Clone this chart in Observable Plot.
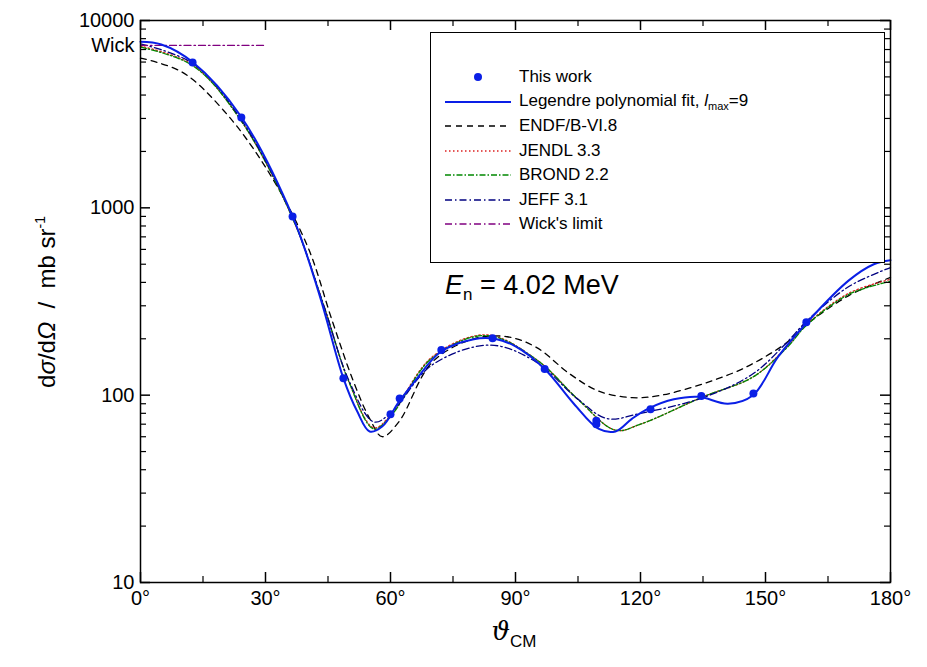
<!DOCTYPE html>
<html><head><meta charset="utf-8">
<script src="https://cdn.jsdelivr.net/npm/d3@7"></script>
<script src="https://cdn.jsdelivr.net/npm/@observablehq/plot@0.6"></script>
<style>
body{margin:0;background:#fff;font-family:Arial,"Liberation Sans",sans-serif}
#wrap{position:relative;width:927px;height:667px}
#legend{position:absolute;left:430px;top:32px;width:453px;height:229px;border:1px solid #000;background:#fff;font-size:17px}
.row{position:absolute;left:14px;height:24px;display:flex;align-items:center}
.row svg{width:66px;height:24px;margin-right:8px}
#en{position:absolute;left:445px;top:270px;font-size:27px}
</style></head>
<body><div id="wrap"><div id="chart"></div>
<div id="legend"></div>
<div id="en"><i>E</i><sub style="font-size:17px">n</sub> = 4.02 MeV</div>
</div>
<script>
// measured points
const expTheta = [12.5, 24.2, 36.5, 48.7, 60, 62.2, 72.2, 84.5, 97, 109.4, 109.4, 122.4, 134.6, 147.1, 159.8];
const expSigma = [5970, 3040, 900, 123, 79, 96, 174, 201, 138, 70, 73, 84, 99, 102, 245];

// Legendre fit
const fitTheta = [0, 5, 12.5, 24, 36.5, 43, 48.7, 52, 55, 58, 62, 66, 72, 80, 85, 90, 97, 104, 110, 114, 118, 122, 128, 134, 141, 147, 153, 160, 170, 176, 180];
const fitSigma = [7700, 7450, 6000, 3100, 900, 340, 123, 82, 64, 68, 92, 120, 170, 199, 200, 182, 138, 90, 66, 64, 75, 85, 95, 98, 90, 100, 160, 245, 410, 500, 525];

const endfTheta = [0, 10, 20, 30, 40, 46, 51, 55, 58, 62, 70, 80, 88, 95, 103, 110, 118, 125, 135, 145, 155, 160, 170, 180];
const endfSigma = [6300, 5300, 3300, 1650, 630, 250, 120, 75, 60, 72, 150, 200, 205, 180, 130, 105, 97, 100, 115, 140, 190, 240, 340, 425];

const jendlTheta = [0, 12.5, 24, 36.5, 44, 50, 56, 60, 70, 83, 95, 105, 114, 120, 135, 147, 155, 160, 170, 180];
const jendlSigma = [7300, 5800, 2950, 880, 300, 118, 67, 78, 160, 210, 155, 95, 65, 70, 98, 125, 180, 240, 350, 415];
const brondSigma = [7200, 5750, 2950, 880, 300, 118, 66, 77, 158, 208, 155, 95, 65, 70, 98, 125, 178, 238, 345, 405];

const jeffTheta = [0, 12.5, 24, 36.5, 44, 50, 56, 60, 70, 84, 95, 105, 112, 120, 135, 147, 155, 160, 170, 180];
const jeffSigma = [7500, 5900, 3000, 890, 300, 120, 72, 80, 145, 185, 150, 95, 75, 80, 97, 130, 190, 250, 380, 480];

const wickTheta = [0, 30];
const wickSigma = [7360, 7360];

const yMajor = [10, 100, 1000, 10000];
const yMinor = d3.range(1, 4).flatMap(e => d3.range(2, 10).map(k => k * 10 ** e));
const xMajor = [0, 30, 60, 90, 120, 150, 180];
const xMinor = d3.range(15, 180, 30);

const pts = (t, s) => t.map((x, i) => ({x, y: s[i]}));
const series = [
  {name: "ENDF/B-VI.8", data: pts(endfTheta, endfSigma), stroke: "#000", dash: "6,5", w: 1.3},
  {name: "JENDL 3.3", data: pts(jendlTheta, jendlSigma), stroke: "#d22", dash: "1.5,2.5", w: 1.3},
  {name: "BROND 2.2", data: pts(jendlTheta, brondSigma), stroke: "#080", dash: "6,2,1.5,2", w: 1.3},
  {name: "JEFF 3.1", data: pts(jeffTheta, jeffSigma), stroke: "#000080", dash: "7,3,1.5,3", w: 1.3},
  {name: "Wick's limit", data: pts(wickTheta, wickSigma), stroke: "#800080", dash: "7,3,1.5,3", w: 1.3}
];
const fit = pts(fitTheta, fitSigma);
const exp = pts(expTheta, expSigma);
const fs = {fontSize: 20, fontFamily: "Arial, 'Liberation Sans', sans-serif"};

// inward tick lengths expressed in scale units
const xTick = (px) => px * 180 / 750;
const yTick = (px) => 10 ** (px / 187.5);

const chart = Plot.plot({
  width: 927, height: 667,
  marginLeft: 140, marginRight: 37, marginTop: 20, marginBottom: 85,
  x: {domain: [0, 180]},
  y: {type: "log", domain: [10, 10000]},
  style: {fontFamily: "Arial, 'Liberation Sans', sans-serif", fontSize: "20px", color: "#000"},
  marks: [
    ...series.map(s => Plot.line(s.data, {x: "x", y: "y", curve: "catmull-rom", stroke: s.stroke, strokeDasharray: s.dash, strokeWidth: s.w})),
    Plot.line(fit, {x: "x", y: "y", curve: "catmull-rom", stroke: "#0a1fe6", strokeWidth: 2}),
    Plot.dot(exp, {x: "x", y: "y", r: 4, fill: "#0a1fe6"}),
    Plot.frame({stroke: "#000", strokeWidth: 1.5}),
    Plot.ruleY(yMajor, {x1: 0, x2: xTick(10), strokeWidth: 1.5}),
    Plot.ruleY(yMajor, {x1: 180 - xTick(10), x2: 180, strokeWidth: 1.5}),
    Plot.ruleY(yMinor, {x1: 0, x2: xTick(6), strokeWidth: 1.2}),
    Plot.ruleY(yMinor, {x1: 180 - xTick(6), x2: 180, strokeWidth: 1.2}),
    Plot.ruleX(xMajor, {y1: 10, y2: 10 * yTick(10), strokeWidth: 1.5}),
    Plot.ruleX(xMajor, {y1: 10000 / yTick(10), y2: 10000, strokeWidth: 1.5}),
    Plot.ruleX(xMinor, {y1: 10, y2: 10 * yTick(6), strokeWidth: 1.2}),
    Plot.ruleX(xMinor, {y1: 10000 / yTick(6), y2: 10000, strokeWidth: 1.2}),
    Plot.axisY(yMajor, {anchor: "left", tickSize: 0, tickPadding: 6, label: null, tickFormat: d3.format("d"), ...fs}),
    Plot.text([wickSigma[0]], {x: 0, y: d => d, text: () => "Wick", textAnchor: "end", dx: -6, ...fs}),
    Plot.axisX(xMajor, {anchor: "bottom", tickSize: 0, tickPadding: 8, label: null, tickFormat: d => d + "°", ...fs})
  ]
});
d3.select("#chart").append(() => chart);
const svg = d3.select(chart);
svg.append("text").attr("transform", "translate(55,302) rotate(-90)").attr("text-anchor", "middle")
  .attr("font-size", 24).html('d<tspan font-style="italic">σ</tspan>/d<tspan font-style="italic">Ω</tspan>  /  mb sr<tspan font-size="14" dy="-10">-1</tspan>');
svg.append("text").attr("x", 514).attr("y", 640).attr("text-anchor", "middle")
  .attr("font-size", 26).html('<tspan font-style="italic" font-family="DejaVu Serif">ϑ</tspan><tspan font-size="17" dy="7">CM</tspan>');

// legend
const lg = d3.select("#legend");
const rows = [{name: "This work", dot: true}, {name: 'Legendre polynomial fit, <i>l</i><sub style="font-size:11px">max</sub>=9', stroke: "#0a1fe6", w: 2}, ...series];
rows.forEach((r, i) => {
  const row = lg.append("div").attr("class", "row").style("top", (32 + i * 24.5) + "px");
  const s = row.append("svg");
  if (r.dot) s.append("circle").attr("cx", 33).attr("cy", 12).attr("r", 4).attr("fill", "#0a1fe6");
  else s.append("line").attr("x1", 0).attr("x2", 66).attr("y1", 12).attr("y2", 12)
    .attr("stroke", r.stroke).attr("stroke-width", r.w).attr("stroke-dasharray", r.dash || null);
  row.append("span").html(r.name);
});
</script></body></html>
